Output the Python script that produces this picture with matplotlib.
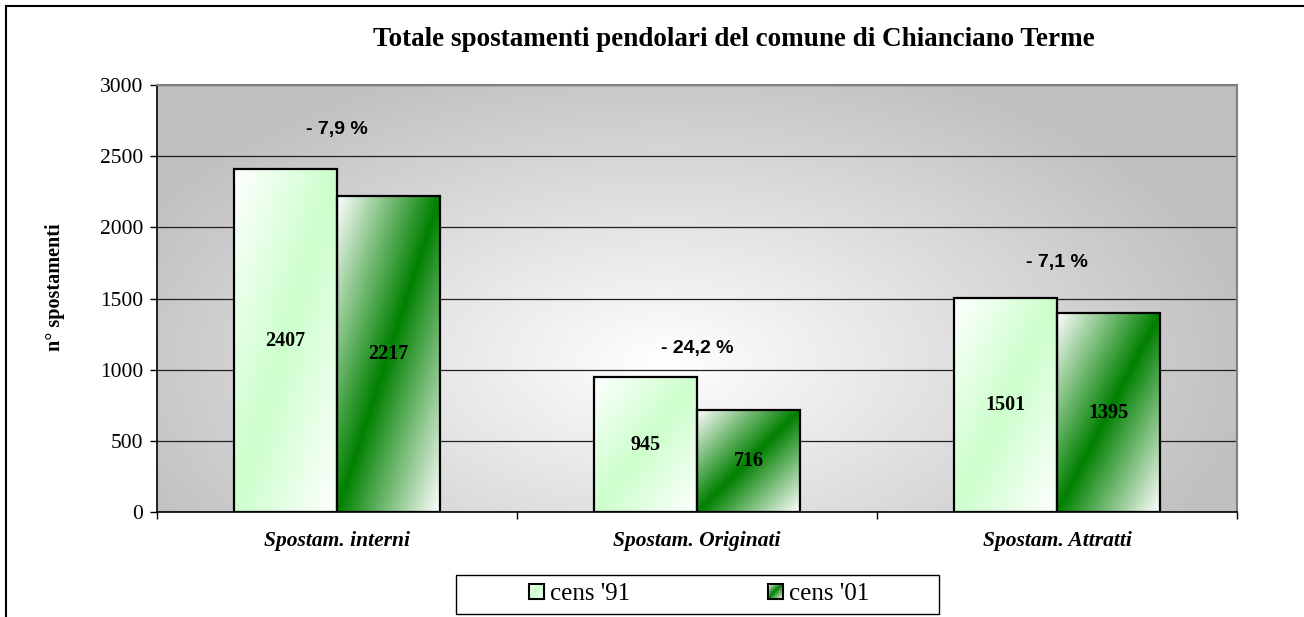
import numpy as np
import matplotlib
matplotlib.use('Agg')
from matplotlib import pyplot as plt
from matplotlib.patches import Rectangle
from matplotlib.legend_handler import HandlerBase
from matplotlib.colors import to_rgb

categories = ['Spostam. interni', 'Spostam. Originati', 'Spostam. Attratti']
series_names = ["cens '91", "cens '01"]
cens91 = [2407, 945, 1501]
cens01 = [2217, 716, 1395]
pct_labels = ['- 7,9 %', '- 24,2 %', '- 7,1 %']
pct_y = [2685, 1150, 1750]
yticks = [0, 500, 1000, 1500, 2000, 2500, 3000]

SERIF = 'Liberation Serif'
SANS = 'Liberation Sans'
colors = ['#ccffcc', '#008000']


def diag_mix(color, u, v):
    # full colour on the bottom-left -> top-right diagonal, white towards the other corners
    d = np.abs(u - v)[..., None]
    base = np.array(to_rgb(color))
    return base * (1 - d) + d


def gradient_fill(ax, bar, color, z=2.5):
    x0, y0 = bar.get_x(), bar.get_y()
    w, h = bar.get_width(), bar.get_height()
    u, v = np.meshgrid(np.linspace(0, 1, 200), np.linspace(0, 1, 200))
    im = ax.imshow(diag_mix(color, u, v), origin='lower', extent=(x0, x0 + w, y0, y0 + h),
                   aspect='auto', interpolation='bilinear', zorder=z)
    im.set_clip_path(bar)


class GradHandler(HandlerBase):
    def __init__(self, color, n=8):
        super().__init__()
        self.color = color
        self.n = n

    def create_artists(self, legend, orig_handle, xdescent, ydescent, width, height, fontsize, trans):
        n = self.n
        side = min(width, height)
        x0 = -xdescent
        y0 = -ydescent + (height - side) / 2
        c = (np.arange(n) + 0.5) / n
        u, v = np.meshgrid(c, c)
        cols = diag_mix(self.color, u, v)
        arts = []
        for i in range(n):
            for j in range(n):
                arts.append(Rectangle((x0 + j * side / n, y0 + i * side / n), side / n, side / n,
                                      facecolor=cols[i, j], edgecolor='none', transform=trans))
        arts.append(Rectangle((x0, y0), side, side, facecolor='none', edgecolor='black',
                              lw=1.5, transform=trans))
        return arts


fig = plt.figure(figsize=(13.04, 6.17), dpi=100)
fig.patch.set_facecolor('white')
# outer frame (top and left edges visible)
fig.add_artist(plt.Line2D([6 / 1304, 6 / 1304], [0, 1 - 6 / 617], color='black', lw=1.5))
fig.add_artist(plt.Line2D([6 / 1304, 1], [1 - 6 / 617, 1 - 6 / 617], color='black', lw=1.5))

ax = fig.add_axes([157 / 1304, 1 - 512 / 617, 1080 / 1304, 427 / 617])

# radial grey background
gx, gy = np.meshgrid(np.linspace(0, 1, 600), np.linspace(0, 1, 300))
r = np.clip(np.sqrt(((gx - 0.47) / 0.55) ** 2 + ((gy - 0.65) / 0.75) ** 2), 0, 1)
g = 1.0 - (1.0 - 0.753) * r
ax.imshow(np.dstack([g, g, g]), extent=(0, 1, 0, 1), transform=ax.transAxes, aspect='auto',
          interpolation='bilinear', zorder=0)

x = np.arange(len(categories))
width = 0.286
bars1 = ax.bar(x - width / 2, cens91, width, facecolor='none', edgecolor='black', lw=1.6, zorder=3)
bars2 = ax.bar(x + width / 2, cens01, width, facecolor='none', edgecolor='black', lw=1.6, zorder=3)
for b in bars1:
    gradient_fill(ax, b, colors[0])
for b in bars2:
    gradient_fill(ax, b, colors[1])

for bars, vals in ((bars1, cens91), (bars2, cens01)):
    for b, v in zip(bars, vals):
        ax.text(b.get_x() + b.get_width() / 2, v / 2, str(v), ha='center', va='center',
                fontsize=14.5, fontweight='bold', family=SERIF, zorder=4)

for i, (lab, yy) in enumerate(zip(pct_labels, pct_y)):
    ax.text(i, yy, lab, ha='center', va='center', fontsize=14, fontweight='bold',
            family=SANS, zorder=4)

ax.set_xlim(-0.5, len(categories) - 0.5)
ax.set_ylim(0, 3000)
ax.set_yticks(yticks)
ax.set_yticklabels([str(t) for t in yticks], family=SERIF, fontsize=15.5)
ax.yaxis.grid(True, color='#202020', lw=0.9, zorder=1)
ax.set_axisbelow(True)

ax.set_xticks(x)
ax.set_xticklabels(categories, family=SERIF, fontsize=15.5, fontweight='bold', style='italic')
ax.tick_params(axis='x', which='major', length=0, pad=14)
ax.set_xticks(np.arange(len(categories) + 1) - 0.5, minor=True)
ax.tick_params(axis='x', which='minor', length=5, width=1, direction='out')
ax.tick_params(axis='y', length=5, width=1, direction='out', pad=5)

for s in ('left', 'bottom'):
    ax.spines[s].set_color('black')
    ax.spines[s].set_linewidth(1.2)
for s in ('top', 'right'):
    ax.spines[s].set_color('#808080')
    ax.spines[s].set_linewidth(1.5)

ax.set_ylabel('n° spostamenti', family=SERIF, fontsize=14.5, fontweight='bold')
ax.yaxis.label.set_verticalalignment('center')
ax.yaxis.set_label_coords((55 - 157) / 1080, (512 - 287) / 427)

fig.text(734 / 1304, 1 - 40 / 617, 'Totale spostamenti pendolari del comune di Chianciano Terme',
         ha='center', va='center', family=SERIF, fontsize=19.5, fontweight='bold')

# legend box drawn separately so the wide side margins match
fig.add_artist(Rectangle((456 / 1304, 1 - 614 / 617), 483 / 1304, 39 / 617, transform=fig.transFigure,
                         facecolor='white', edgecolor='black', lw=1.0, zorder=5))
handles = [Rectangle((0, 0), 1, 1), Rectangle((0, 0), 1, 1)]
leg = fig.legend(handles, series_names, loc='center', bbox_to_anchor=(699 / 1304, 1 - 594 / 617),
                 ncol=2, frameon=False, prop={'family': SERIF, 'size': 18},
                 handler_map={handles[0]: GradHandler(colors[0]), handles[1]: GradHandler(colors[1])},
                 handlelength=0.6, handleheight=0.6, handletextpad=0.25, columnspacing=5.5,
                 borderpad=0.2, borderaxespad=0)
leg.set_zorder(6)

fig.savefig('out.png', dpi=100)
